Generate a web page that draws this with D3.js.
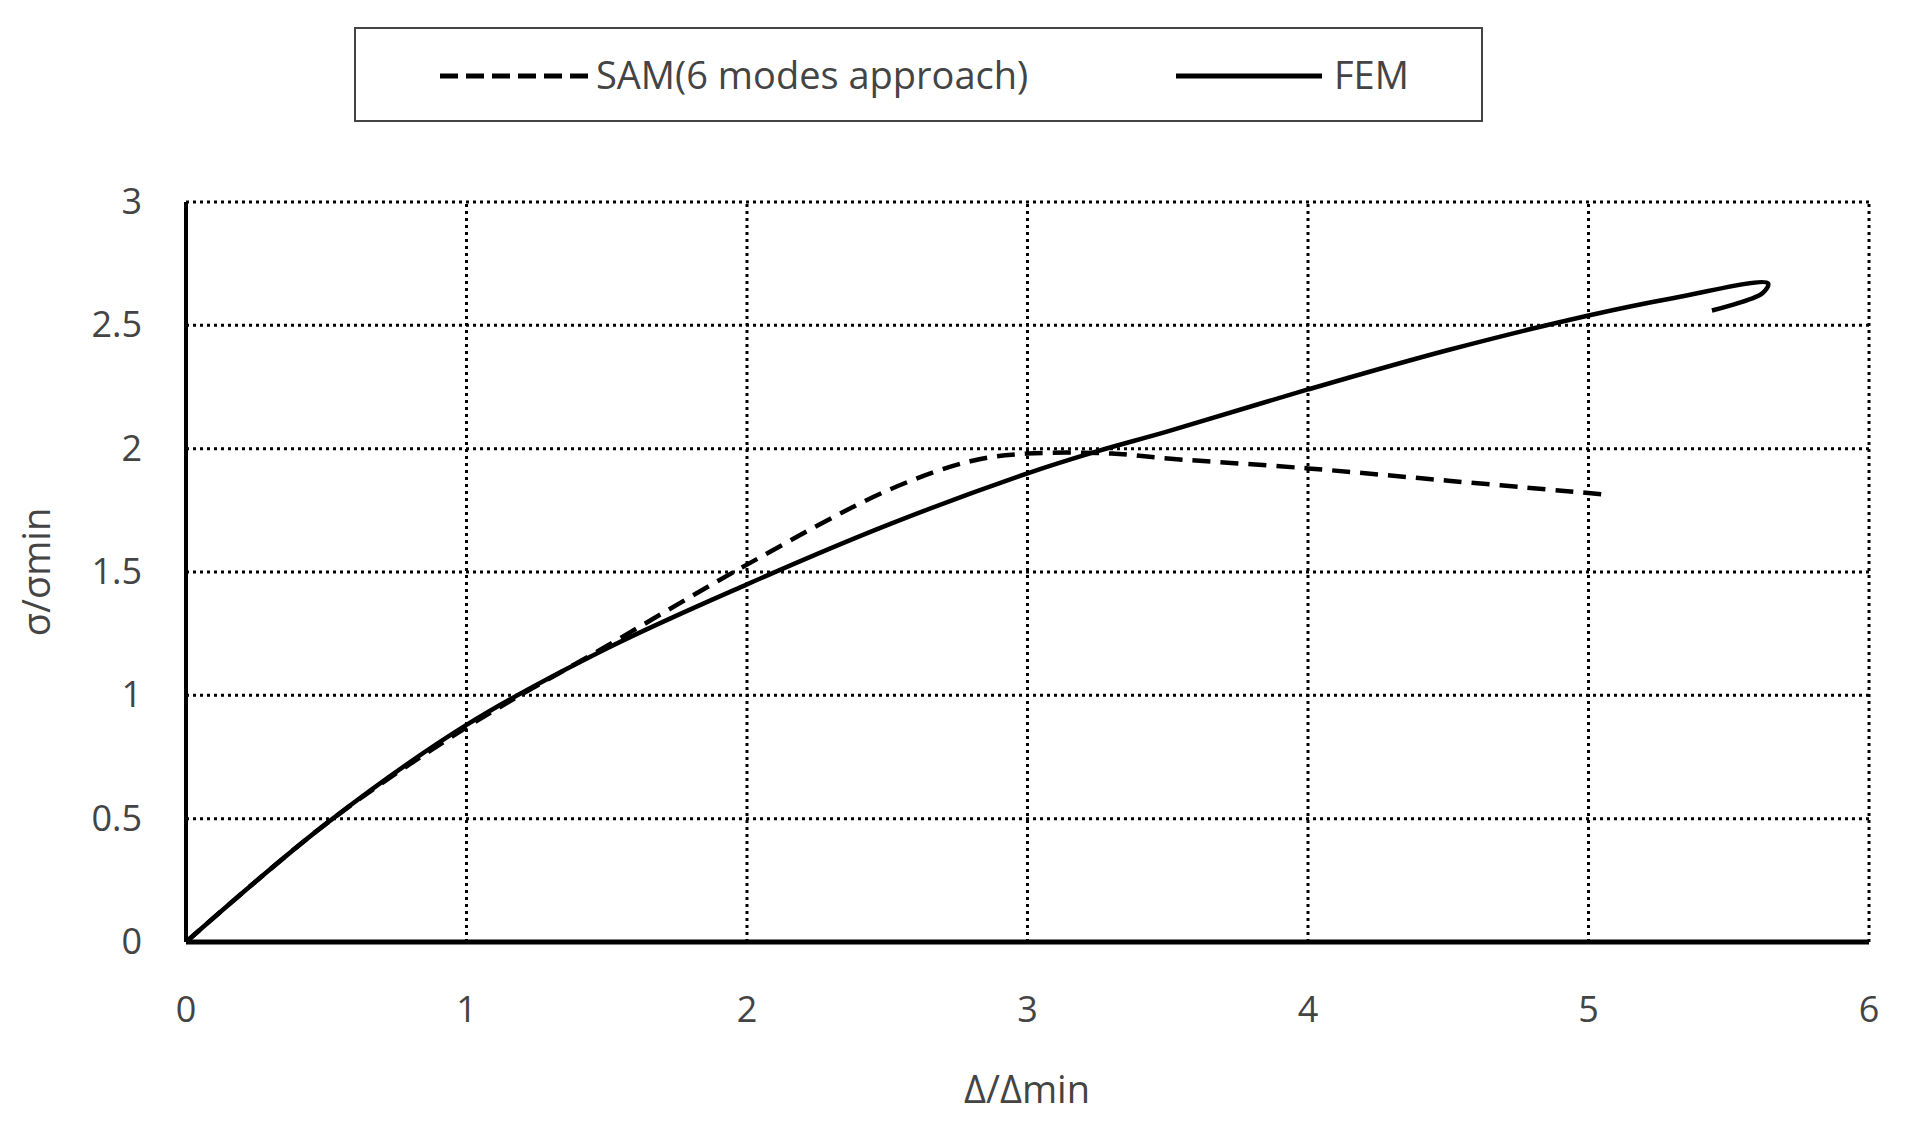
<!DOCTYPE html>
<html><head><meta charset="utf-8">
<script src="https://cdn.jsdelivr.net/npm/d3@7"></script>
<style>body{margin:0;background:#fff}text{font-family:"Open Sans",sans-serif;fill:#444}</style>
</head><body><svg id="c" width="1905" height="1125"></svg>
<script>
const femX = [0, 0.5, 1, 1.5, 2, 2.5, 3, 3.25, 3.5, 4, 4.5, 5, 5.3, 5.64, 5.62, 5.44];
const femY = [0, 0.48, 0.88, 1.19, 1.45, 1.69, 1.9, 1.99, 2.07, 2.24, 2.4, 2.54, 2.61, 2.67, 2.63, 2.56];
const samX = [0, 0.5, 1, 1.5, 2, 2.5, 2.8, 3, 3.3, 3.5, 4, 4.5, 5, 5.05];
const samY = [0, 0.48, 0.87, 1.2, 1.53, 1.83, 1.95, 1.98, 1.98, 1.96, 1.92, 1.87, 1.82, 1.815];
const xTicks = [0, 1, 2, 3, 4, 5, 6];
const yTicks = [0, 0.5, 1, 1.5, 2, 2.5, 3];

const svg = d3.select("#c");
const x = d3.scaleLinear().domain([0, 6]).range([186, 1869]);
const y = d3.scaleLinear().domain([0, 3]).range([942, 202]);

// grid
const dot = g => g.attr("stroke", "#000").attr("stroke-width", 3).attr("stroke-dasharray", "3 4");
xTicks.slice(1).forEach(t => svg.append("line").attr("x1", x(t)).attr("x2", x(t)).attr("y1", y(0)).attr("y2", y(3)).call(dot));
yTicks.slice(1).forEach(t => svg.append("line").attr("x1", x(0)).attr("x2", x(6)).attr("y1", y(t)).attr("y2", y(t)).call(dot));

// axes
svg.append("line").attr("x1", x(0)).attr("x2", x(0)).attr("y1", y(0)).attr("y2", y(3)).attr("stroke", "#000").attr("stroke-width", 4);
svg.append("line").attr("x1", x(0)).attr("x2", x(6)).attr("y1", y(0)).attr("y2", y(0)).attr("stroke", "#000").attr("stroke-width", 5);

svg.selectAll(".xt").data(xTicks).enter().append("text").attr("x", d => x(d)).attr("y", 1022)
  .attr("text-anchor", "middle").attr("font-size", 36).text(d => d);
svg.selectAll(".yt").data(yTicks).enter().append("text").attr("x", 142).attr("y", d => y(d) + 12)
  .attr("text-anchor", "end").attr("font-size", 36).text(d => d);

svg.append("text").attr("x", 1027).attr("y", 1103).attr("text-anchor", "middle").attr("font-size", 38).text("Δ/Δmin");
svg.append("text").attr("transform", "translate(50," + y(1.5) + ") rotate(-90)").attr("text-anchor", "middle").attr("font-size", 38).text("σ/σmin");

const line = d3.line().x(d => x(d[0])).y(d => y(d[1])).curve(d3.curveCatmullRom);
svg.append("path").attr("d", line(femX.map((v, i) => [v, femY[i]]))).attr("fill", "none").attr("stroke", "#000").attr("stroke-width", 4.5);
svg.append("path").attr("d", line(samX.map((v, i) => [v, samY[i]]))).attr("fill", "none").attr("stroke", "#000").attr("stroke-width", 4.5).attr("stroke-dasharray", "18 10");

// legend
svg.append("rect").attr("x", 355).attr("y", 28).attr("width", 1127).attr("height", 93).attr("fill", "#fff").attr("stroke", "#444").attr("stroke-width", 2);
svg.append("line").attr("x1", 440).attr("x2", 588).attr("y1", 76).attr("y2", 76).attr("stroke", "#000").attr("stroke-width", 5).attr("stroke-dasharray", "18 8");
svg.append("text").attr("x", 596).attr("y", 89).attr("font-size", 38).text("SAM(6 modes approach)");
svg.append("line").attr("x1", 1176).attr("x2", 1322).attr("y1", 76).attr("y2", 76).attr("stroke", "#000").attr("stroke-width", 5);
svg.append("text").attr("x", 1334).attr("y", 89).attr("font-size", 38).text("FEM");
</script></body></html>
